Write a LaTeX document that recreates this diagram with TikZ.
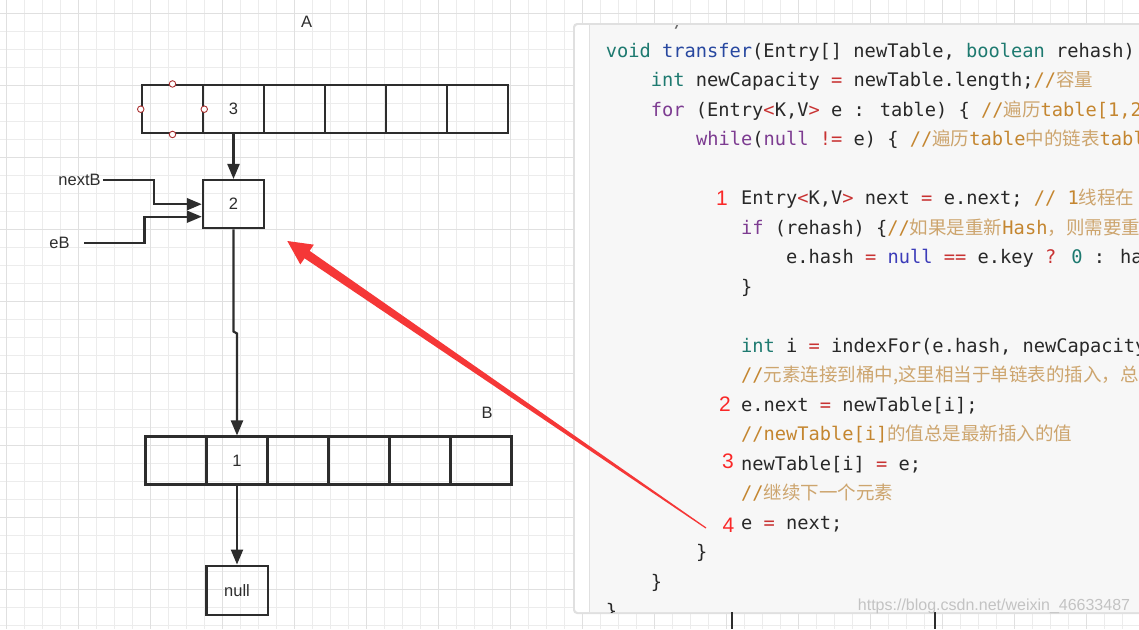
\documentclass[tikz,border=0pt]{standalone}
\usepackage{fontspec}
\setmainfont{Liberation Sans}
\newfontfamily\codefont{DejaVu Sans Mono}
\newfontfamily\cjk{Noto Sans CJK SC}
\usetikzlibrary{arrows.meta,calc}
\definecolor{gridc}{RGB}{236,236,236}
\definecolor{gridd}{RGB}{224,224,224}
\definecolor{ink}{RGB}{45,45,45}
\definecolor{hnd}{RGB}{170,50,50}
\definecolor{arrred}{RGB}{245,55,55}
\definecolor{numred}{RGB}{250,40,40}
\definecolor{panelbg}{RGB}{247,247,247}
\definecolor{codefg}{RGB}{40,40,40}
\definecolor{kwteal}{RGB}{30,122,112}
\definecolor{fnblue}{RGB}{40,72,160}
\definecolor{kwpurple}{RGB}{125,60,145}
\definecolor{opred}{RGB}{200,50,50}
\definecolor{cmorange}{RGB}{196,134,48}
\definecolor{cmcjk}{RGB}{205,165,110}
\definecolor{nullblue}{RGB}{60,60,185}
\definecolor{wmark}{RGB}{195,195,195}
\newcommand{\ckw}[1]{\textcolor{kwteal}{#1}}
\newcommand{\cfn}[1]{\textcolor{fnblue}{#1}}
\newcommand{\cpu}[1]{\textcolor{kwpurple}{#1}}
\newcommand{\cop}[1]{\textcolor{opred}{#1}}
\newcommand{\ccm}[1]{\textcolor{cmorange}{#1}}
\newcommand{\cnl}[1]{\textcolor{nullblue}{#1}}
\newcommand{\zh}[1]{{\cjk\fontsize{18.5}{20}\selectfont\textcolor{cmcjk}{#1}}}
\begin{document}
\begin{tikzpicture}[x=1pt,y=-1pt,
  cell/.style={draw=ink, line width=2.5pt, minimum width=61pt, minimum height=48pt, inner sep=0pt, font=\fontsize{16.5}{18}\selectfont, text=ink},
  lbl/.style={font=\fontsize{16.5}{19}\selectfont, text=ink, inner sep=2pt},
  conn/.style={draw=ink, line width=2.2pt, -{Triangle[length=15pt,width=12pt]}},
  handle/.style={circle, draw=hnd, fill=white, line width=0.9pt, minimum size=6.5pt, inner sep=0pt},
  codeline/.style={anchor=base west, inner sep=0pt, font=\codefont\fontsize{18.7}{22}\selectfont, text=codefg},
  lnum/.style={anchor=base, inner sep=0pt, font=\fontsize{21}{23}\selectfont, text=numred}]
\useasboundingbox (0,0) rectangle (1139,629);
\fill[white] (0,0) rectangle (1139,629);
% grid
\foreach \i in {0,...,62} \draw[gridc, line width=1pt] ({6.5+18*\i},0) -- ({6.5+18*\i},629);
\foreach \j in {0,...,34} \draw[gridc, line width=1pt] (0,{13.3+18*\j}) -- (1139,{13.3+18*\j});
\foreach \i in {0,4,...,60} \draw[gridd, line width=1pt] ({6.5+18*\i},0) -- ({6.5+18*\i},629);
\foreach \j in {0,4,...,32} \draw[gridd, line width=1pt] (0,{13.3+18*\j}) -- (1139,{13.3+18*\j});

% array A
\node[lbl] (lblA) at (306.5,21.7) {A};
\node[cell] (a1) at (172.5,109.2) {};
\node[cell] (a2) at (233.5,109.2) {3};
\node[cell] (a3) at (294.5,109.2) {};
\node[cell] (a4) at (355.5,109.2) {};
\node[cell] (a5) at (416.5,109.2) {};
\node[cell] (a6) at (477.5,109.2) {};
\node[handle] (h1) at (a1.north) {};
\node[handle] (h2) at (a1.west) {};
\node[handle] (h3) at (a1.east) {};
\node[handle] (h4) at (a1.south) {};

% node 2
\node[cell] (n2) at (233.5,204.2) {2};
\node[lbl] (nextB) at (79.5,180) {nextB};
\node[lbl] (eB) at (59.5,242.7) {eB};
\coordinate (eBs) at (84.4,242.7);

% array B
\node[lbl] (lblB) at (487,413.3) {B};
\node[cell, minimum height=47.6pt] (b1) at (176,460.5) {};
\node[cell, minimum height=47.6pt] (b2) at (237,460.5) {1};
\node[cell, minimum height=47.6pt] (b3) at (298,460.5) {};
\node[cell, minimum height=47.6pt] (b4) at (359,460.5) {};
\node[cell, minimum height=47.6pt] (b5) at (420,460.5) {};
\node[cell, minimum height=47.6pt] (b6) at (481,460.5) {};
\node[cell, minimum width=61.5pt, minimum height=49pt] (nul) at (237,590.3) {null};

% connectors
\draw[conn] (a2.south) -- (n2.north);
\draw[conn] (nextB.east) -| (153.8,204.2) -- (n2.west);
\draw[conn] (eBs) -| (144.4,216.7) -- ($(n2.west)+(0,12.5)$);
\draw[conn] (n2.south) -- (233.5,331.5) -- (237,333.5) -- (b2.north);
\draw[conn] (b2.south) -- (nul.north);

% code panel
\fill[black!12, rounded corners=4pt] (573,23) rectangle (1145,614);
\fill[white, rounded corners=3pt] (575,25) rectangle (1145,612);
\fill[panelbg] (590,25) rectangle (1145,612);
\draw[black!12, line width=1pt] (589.5,25) -- (589.5,612);
\draw[ink, line width=2pt] (732.2,612) -- (732.2,629);
\draw[ink, line width=2pt] (935,612) -- (935,629);

\begin{scope}
\clip (575,25) rectangle (1139,612);
\node[codeline, text=black!60] (c0) at (662.4,27.5) {*/};
\node[codeline] (c1) at (605.6,57) {\ckw{void} \cfn{transfer}(Entry[] newTable, \ckw{boolean} rehash)};
\node[codeline] (c2) at (650.7,86.5) {\ckw{int} newCapacity \cop{=} newTable.length;\ccm{//}\zh{容量}};
\node[codeline] (c3) at (650.7,116) {\cpu{for} (Entry\cop{<}K,V\cop{>} e : table) \{ \ccm{//}\zh{遍历}\ccm{table[1,2}};
\node[codeline] (c4) at (695.8,145.5) {\cpu{while}(\cpu{null} \cop{!=} e) \{ \ccm{//}\zh{遍历}\ccm{table}\zh{中的链表}\ccm{tabl}};
\node[codeline] (c5) at (740.9,204.5) {Entry\cop{<}K,V\cop{>} next \cop{=} e.next; \ccm{// 1}\zh{线程在}};
\node[codeline] (c6) at (740.9,234) {\cpu{if} (rehash) \{\ccm{//}\zh{如果是重新}\ccm{Hash}\zh{，则需要重}};
\node[codeline] (c7) at (786,263.5) {e.hash \cop{=} \cnl{null} \cop{==} e.key \cop{?} \ckw{0} : has};
\node[codeline] (c8) at (740.9,293) {\}};
\node[codeline] (c9) at (740.9,352) {\ckw{int} i \cop{=} indexFor(e.hash, newCapacity};
\node[codeline] (c10) at (740.9,381.5) {\ccm{//}\zh{元素连接到桶中,这里相当于单链表的插入，总}};
\node[codeline] (c11) at (740.9,411) {e.next \cop{=} newTable[i];};
\node[codeline] (c12) at (740.9,440.5) {\ccm{//newTable[i]}\zh{的值总是最新插入的值}};
\node[codeline] (c13) at (740.9,470) {newTable[i] \cop{=} e;};
\node[codeline] (c14) at (740.9,499.5) {\ccm{//}\zh{继续下一个元素}};
\node[codeline] (c15) at (740.9,529) {e \cop{=} next;};
\node[codeline] (c16) at (695.8,558.5) {\}};
\node[codeline] (c17) at (650.7,588) {\}};
\node[codeline] (c18) at (605.6,617.5) {\}};
\end{scope}

% red step numbers
\node[lnum] (r1) at (722,205) {1};
\node[lnum] (r2) at (725,411.5) {2};
\node[lnum] (r3) at (728,468) {3};
\node[lnum] (r4) at (728.5,532) {4};

% watermark
\node[font=\fontsize{16}{18}\selectfont, text=wmark, inner sep=0pt] (wm) at (994,606) {https://blog.csdn.net/weixin\_46633487};

% red arrow
\coordinate (rt) at (287.3,241);
\coordinate (re) at (706,528);
\coordinate (rb) at ($(rt)!24pt!(re)$);
\fill[arrred] (rt) -- ($(rb)!12pt!90:(rt)$) -- ($(rb)!4.5pt!90:(rt)$) -- ($(re)!0.6pt!90:(rt)$)
  -- ($(re)!0.6pt!-90:(rt)$) -- ($(rb)!4.5pt!-90:(rt)$) -- ($(rb)!12pt!-90:(rt)$) -- cycle;
\end{tikzpicture}
\end{document}
